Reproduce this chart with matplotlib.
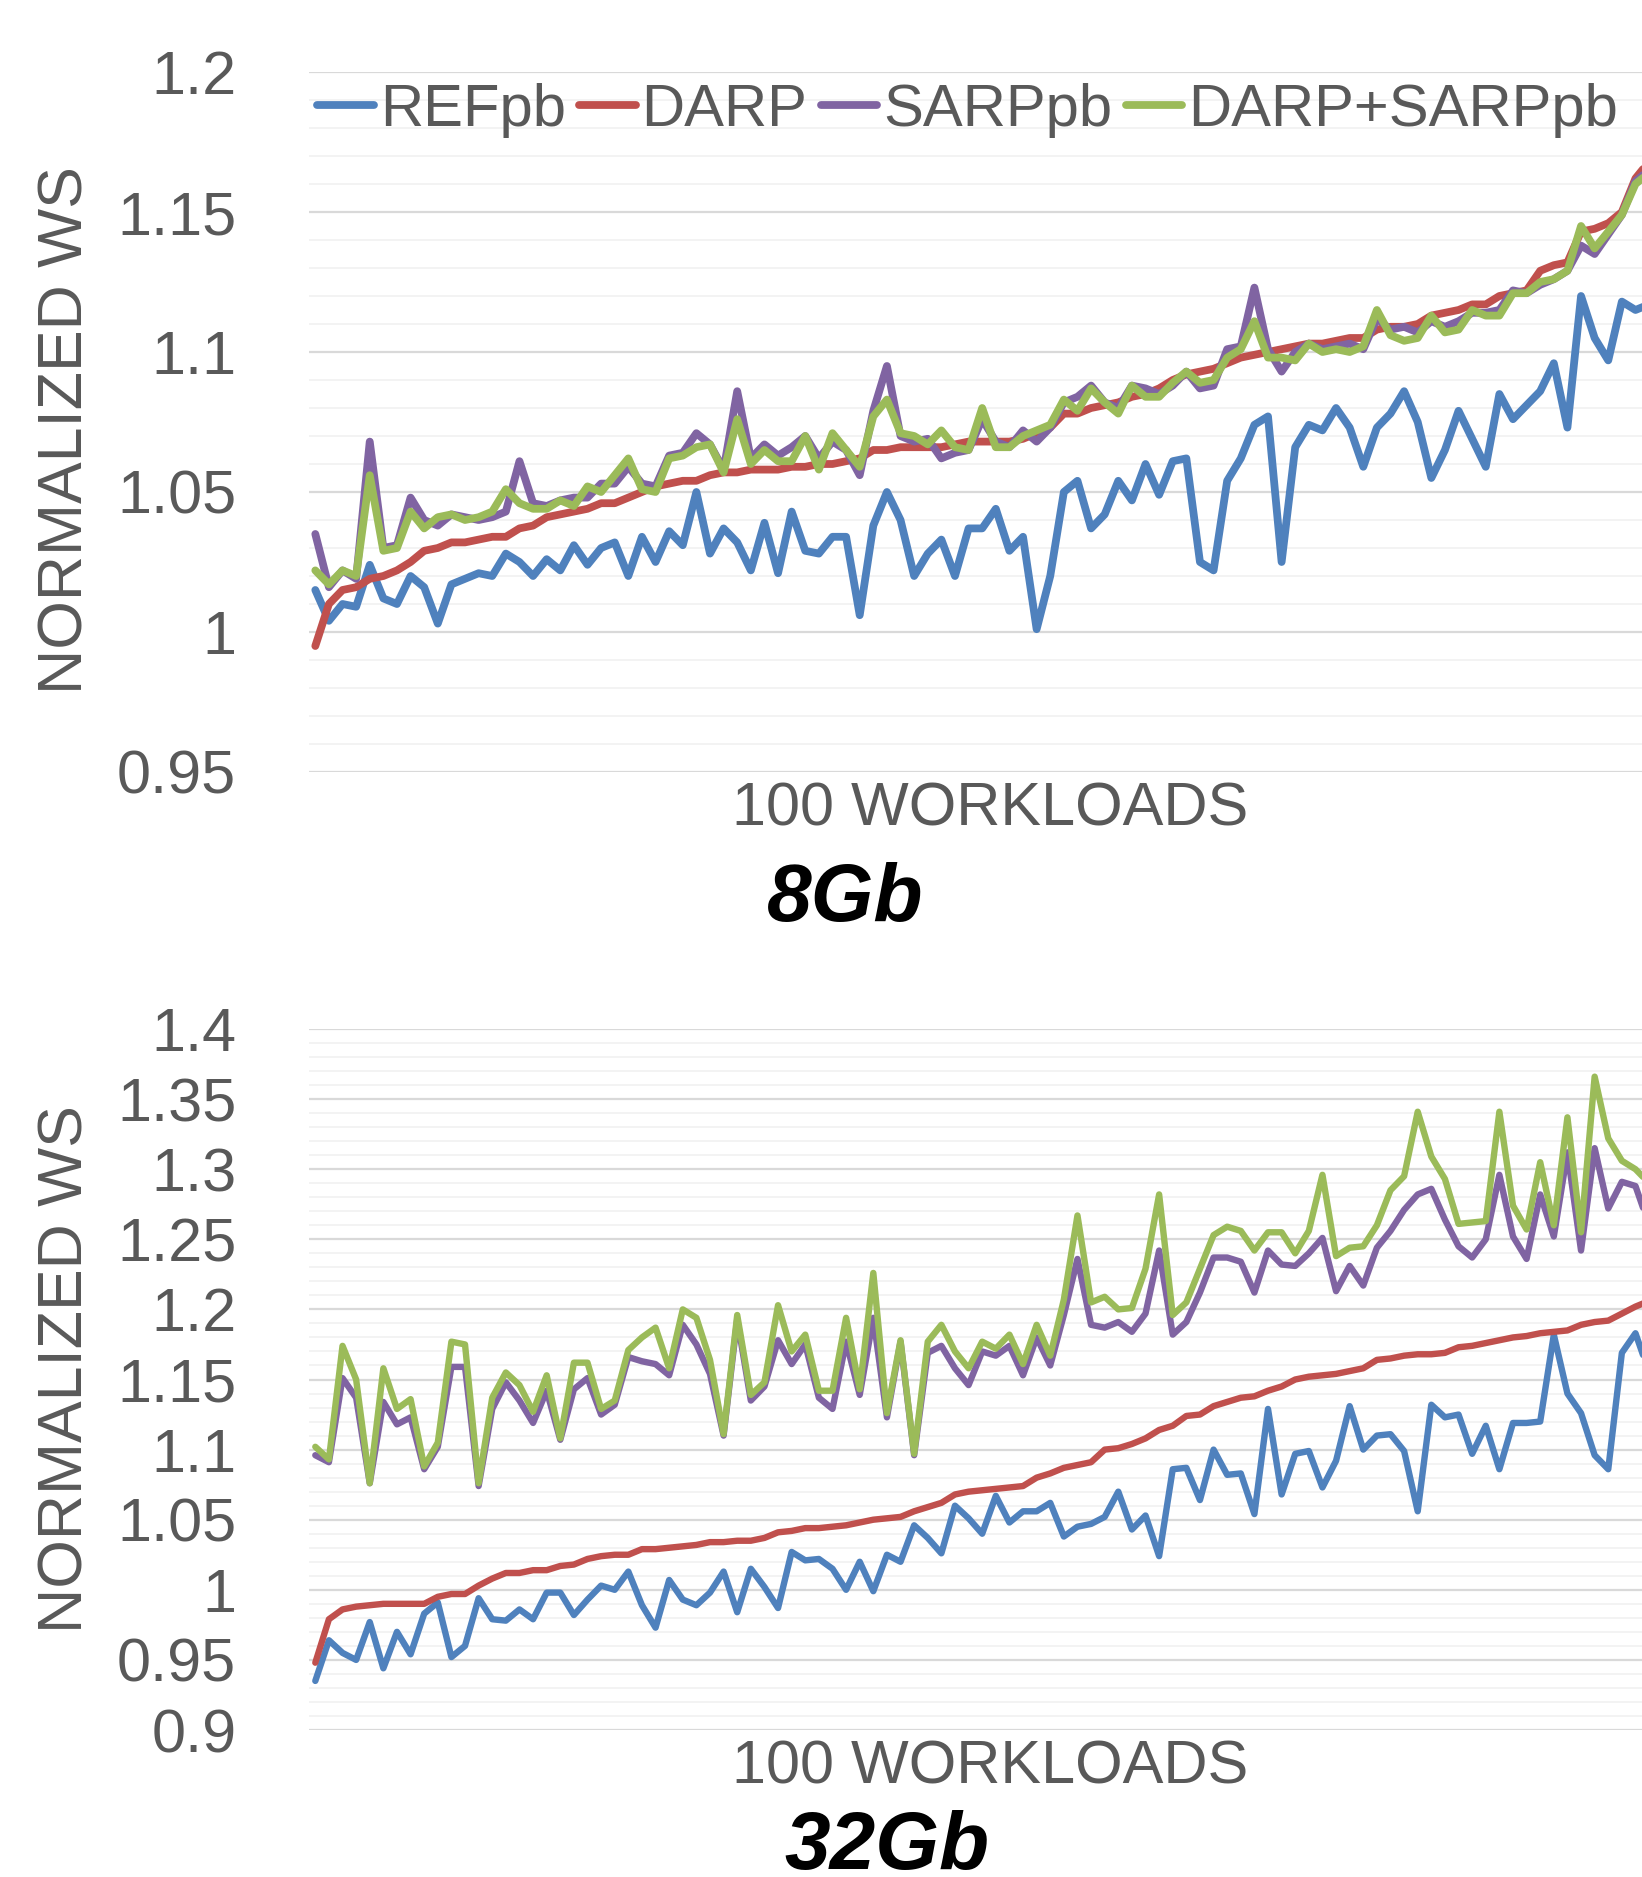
import matplotlib
matplotlib.use("Agg")
import matplotlib.pyplot as plt
from matplotlib.ticker import FixedLocator, MultipleLocator, FuncFormatter
import numpy as np

plt.rcParams['font.family'] = ['Liberation Sans', 'DejaVu Sans']

series_names = ["REFpb", "DARP", "SARPpb", "DARP+SARPpb"]
series_colors = ["#4F81BD", "#C0504D", "#8064A2", "#9BBB59"]
workloads = np.arange(1, 101)

# 8Gb panel
ref_8gb = [1.015, 1.004, 1.010, 1.009, 1.024, 1.012, 1.010, 1.020, 1.016, 1.003,
           1.017, 1.019, 1.021, 1.020, 1.028, 1.025, 1.020, 1.026, 1.022, 1.031,
           1.024, 1.030, 1.032, 1.020, 1.034, 1.025, 1.036, 1.031, 1.050, 1.028,
           1.037, 1.032, 1.022, 1.039, 1.021, 1.043, 1.029, 1.028, 1.034, 1.034,
           1.006, 1.038, 1.050, 1.040, 1.020, 1.028, 1.033, 1.020, 1.037, 1.037,
           1.044, 1.029, 1.034, 1.001, 1.020, 1.050, 1.054, 1.037, 1.042, 1.054,
           1.047, 1.060, 1.049, 1.061, 1.062, 1.025, 1.022, 1.054, 1.062, 1.074,
           1.077, 1.025, 1.066, 1.074, 1.072, 1.080, 1.073, 1.059, 1.073, 1.078,
           1.086, 1.075, 1.055, 1.065, 1.079, 1.069, 1.059, 1.085, 1.076, 1.081,
           1.086, 1.096, 1.073, 1.120, 1.105, 1.097, 1.118, 1.115, 1.117, 1.125]
darp_8gb = [0.995, 1.010, 1.015, 1.016, 1.019, 1.020, 1.022, 1.025, 1.029, 1.030,
            1.032, 1.032, 1.033, 1.034, 1.034, 1.037, 1.038, 1.041, 1.042, 1.043,
            1.044, 1.046, 1.046, 1.048, 1.050, 1.052, 1.053, 1.054, 1.054, 1.056,
            1.057, 1.057, 1.058, 1.058, 1.058, 1.059, 1.059, 1.060, 1.060, 1.061,
            1.062, 1.065, 1.065, 1.066, 1.066, 1.066, 1.066, 1.067, 1.068, 1.068,
            1.068, 1.068, 1.069, 1.071, 1.073, 1.078, 1.078, 1.080, 1.081, 1.082,
            1.084, 1.085, 1.087, 1.090, 1.092, 1.093, 1.094, 1.096, 1.098, 1.099,
            1.100, 1.101, 1.102, 1.103, 1.103, 1.104, 1.105, 1.105, 1.108, 1.109,
            1.109, 1.110, 1.113, 1.114, 1.115, 1.117, 1.117, 1.120, 1.121, 1.122,
            1.129, 1.131, 1.132, 1.143, 1.144, 1.146, 1.150, 1.162, 1.168, 1.178]
sarp_8gb = [1.035, 1.016, 1.022, 1.019, 1.068, 1.030, 1.031, 1.048, 1.040, 1.038,
            1.042, 1.041, 1.040, 1.041, 1.043, 1.061, 1.046, 1.045, 1.047, 1.048,
            1.048, 1.053, 1.053, 1.059, 1.053, 1.052, 1.063, 1.064, 1.071, 1.067,
            1.058, 1.086, 1.062, 1.067, 1.063, 1.066, 1.070, 1.062, 1.068, 1.065,
            1.056, 1.079, 1.095, 1.070, 1.068, 1.069, 1.062, 1.064, 1.065, 1.076,
            1.068, 1.066, 1.072, 1.068, 1.073, 1.082, 1.084, 1.088, 1.082, 1.080,
            1.088, 1.087, 1.085, 1.088, 1.093, 1.087, 1.088, 1.101, 1.102, 1.123,
            1.101, 1.093, 1.100, 1.103, 1.101, 1.102, 1.103, 1.101, 1.112, 1.108,
            1.109, 1.107, 1.111, 1.109, 1.111, 1.114, 1.114, 1.115, 1.122, 1.121,
            1.124, 1.126, 1.129, 1.138, 1.135, 1.142, 1.149, 1.161, 1.165, 1.172]
both_8gb = [1.022, 1.017, 1.022, 1.020, 1.056, 1.029, 1.030, 1.043, 1.037, 1.041,
            1.042, 1.040, 1.041, 1.043, 1.051, 1.046, 1.044, 1.044, 1.047, 1.045,
            1.052, 1.050, 1.056, 1.062, 1.051, 1.050, 1.062, 1.063, 1.066, 1.067,
            1.057, 1.076, 1.060, 1.065, 1.061, 1.061, 1.070, 1.058, 1.071, 1.065,
            1.059, 1.077, 1.083, 1.071, 1.070, 1.067, 1.072, 1.066, 1.065, 1.080,
            1.066, 1.066, 1.070, 1.072, 1.074, 1.083, 1.079, 1.087, 1.082, 1.078,
            1.088, 1.084, 1.084, 1.089, 1.093, 1.089, 1.090, 1.098, 1.101, 1.111,
            1.098, 1.098, 1.097, 1.103, 1.100, 1.101, 1.100, 1.102, 1.115, 1.106,
            1.104, 1.105, 1.113, 1.107, 1.108, 1.115, 1.113, 1.113, 1.121, 1.121,
            1.125, 1.126, 1.129, 1.145, 1.137, 1.143, 1.149, 1.160, 1.164, 1.170]

# 32Gb panel
ref_32gb = [0.935, 0.964, 0.955, 0.950, 0.977, 0.944, 0.970, 0.954, 0.983, 0.991,
            0.952, 0.960, 0.994, 0.979, 0.978, 0.986, 0.979, 0.998, 0.998, 0.982,
            0.993, 1.003, 1.000, 1.013, 0.989, 0.973, 1.007, 0.993, 0.989, 0.998,
            1.013, 0.984, 1.015, 1.002, 0.987, 1.027, 1.021, 1.022, 1.015, 1.000,
            1.020, 0.999, 1.025, 1.020, 1.046, 1.037, 1.026, 1.060, 1.051, 1.040,
            1.067, 1.048, 1.056, 1.056, 1.062, 1.038, 1.045, 1.047, 1.052, 1.070,
            1.043, 1.053, 1.024, 1.086, 1.087, 1.064, 1.100, 1.082, 1.083, 1.054,
            1.129, 1.068, 1.097, 1.099, 1.073, 1.092, 1.131, 1.100, 1.110, 1.111,
            1.099, 1.056, 1.132, 1.123, 1.125, 1.097, 1.117, 1.086, 1.119, 1.119,
            1.120, 1.182, 1.140, 1.126, 1.096, 1.086, 1.169, 1.183, 1.155, 1.170]
darp_32gb = [0.948, 0.979, 0.986, 0.988, 0.989, 0.990, 0.990, 0.990, 0.990, 0.995,
             0.997, 0.997, 1.003, 1.008, 1.012, 1.012, 1.014, 1.014, 1.017, 1.018,
             1.022, 1.024, 1.025, 1.025, 1.029, 1.029, 1.030, 1.031, 1.032, 1.034,
             1.034, 1.035, 1.035, 1.037, 1.041, 1.042, 1.044, 1.044, 1.045, 1.046,
             1.048, 1.050, 1.051, 1.052, 1.056, 1.059, 1.062, 1.068, 1.070, 1.071,
             1.072, 1.073, 1.074, 1.080, 1.083, 1.087, 1.089, 1.091, 1.100, 1.101,
             1.104, 1.108, 1.114, 1.117, 1.124, 1.125, 1.131, 1.134, 1.137, 1.138,
             1.142, 1.145, 1.150, 1.152, 1.153, 1.154, 1.156, 1.158, 1.164, 1.165,
             1.167, 1.168, 1.168, 1.169, 1.173, 1.174, 1.176, 1.178, 1.180, 1.181,
             1.183, 1.184, 1.185, 1.189, 1.191, 1.192, 1.197, 1.202, 1.206, 1.215]
sarp_32gb = [1.096, 1.091, 1.151, 1.137, 1.076, 1.134, 1.118, 1.123, 1.086, 1.102,
             1.159, 1.159, 1.074, 1.129, 1.148, 1.135, 1.119, 1.142, 1.107, 1.143,
             1.151, 1.125, 1.132, 1.166, 1.163, 1.161, 1.153, 1.189, 1.175, 1.154,
             1.110, 1.193, 1.135, 1.145, 1.178, 1.161, 1.175, 1.137, 1.129, 1.177,
             1.139, 1.194, 1.123, 1.177, 1.096, 1.169, 1.174, 1.158, 1.146, 1.170,
             1.167, 1.174, 1.153, 1.180, 1.160, 1.196, 1.236, 1.189, 1.187, 1.191,
             1.184, 1.197, 1.242, 1.182, 1.191, 1.212, 1.237, 1.237, 1.234, 1.212,
             1.242, 1.232, 1.231, 1.240, 1.251, 1.213, 1.231, 1.217, 1.244, 1.256,
             1.271, 1.282, 1.286, 1.264, 1.245, 1.237, 1.250, 1.296, 1.252, 1.236,
             1.282, 1.252, 1.312, 1.242, 1.315, 1.272, 1.291, 1.288, 1.260, 1.270]
both_32gb = [1.102, 1.093, 1.174, 1.150, 1.076, 1.158, 1.129, 1.136, 1.088, 1.105,
             1.177, 1.175, 1.076, 1.137, 1.155, 1.146, 1.127, 1.153, 1.108, 1.162,
             1.162, 1.129, 1.135, 1.171, 1.180, 1.187, 1.158, 1.200, 1.194, 1.164,
             1.111, 1.196, 1.139, 1.148, 1.203, 1.170, 1.182, 1.142, 1.142, 1.194,
             1.143, 1.226, 1.126, 1.178, 1.097, 1.177, 1.189, 1.170, 1.158, 1.177,
             1.172, 1.182, 1.161, 1.189, 1.167, 1.207, 1.267, 1.205, 1.209, 1.200,
             1.201, 1.229, 1.282, 1.196, 1.205, 1.229, 1.253, 1.259, 1.256, 1.242,
             1.255, 1.255, 1.240, 1.256, 1.296, 1.238, 1.244, 1.245, 1.260, 1.285,
             1.295, 1.341, 1.309, 1.293, 1.261, 1.262, 1.263, 1.341, 1.274, 1.257,
             1.305, 1.260, 1.337, 1.255, 1.366, 1.322, 1.306, 1.300, 1.290, 1.300]

ticks_8gb = [0.95, 1.0, 1.05, 1.1, 1.15, 1.2]
ticks_32gb = [0.9, 0.95, 1.0, 1.05, 1.1, 1.15, 1.2, 1.25, 1.3, 1.35, 1.4]

W, H = 1642, 1877
fig = plt.figure(figsize=(W / 100, H / 100), dpi=100)
grey = "#595959"

# plot area runs past the right edge of the picture, as in the original
left = 308.5 / W
width = 1361 / W
ax1 = fig.add_axes([left, 1 - 772 / H, width, 700 / H])
ax2 = fig.add_axes([left, 1 - 1730 / H, width, 701 / H])


def style(ax, ticks):
    ax.set_xlim(0.5, 100.5)
    ax.set_ylim(ticks[0], ticks[-1])
    ax.yaxis.set_major_locator(FixedLocator(ticks))
    ax.yaxis.set_minor_locator(MultipleLocator(0.01))
    ax.yaxis.set_major_formatter(FuncFormatter(lambda v, p: f"{v:g}"))
    ax.set_xticks([])
    ax.grid(axis="y", which="minor", color="#F2F2F2", linewidth=1.3)
    ax.grid(axis="y", which="major", color="#D9D9D9", linewidth=1.6)
    ax.set_axisbelow(True)
    for s in ax.spines.values():
        s.set_visible(False)
    ax.tick_params(axis="y", which="both", length=0, pad=52,
                   labelsize=44, labelcolor=grey)


lines = []
for ax, data, ticks, lw in [
    (ax1, [ref_8gb, darp_8gb, sarp_8gb, both_8gb], ticks_8gb, 5.6),
    (ax2, [ref_32gb, darp_32gb, sarp_32gb, both_32gb], ticks_32gb, 4.6),
]:
    style(ax, ticks)
    hs = []
    for vals, name, c in zip(data, series_names, series_colors):
        h, = ax.plot(workloads, vals, color=c, lw=lw, label=name,
                     solid_joinstyle="round", solid_capstyle="round")
        hs.append(h)
    lines.append(hs)

fig.legend(handles=lines[0], labels=series_names, loc="center left",
           bbox_to_anchor=(317 / W, 1 - 110 / H), ncol=4, frameon=False,
           fontsize=43, labelcolor=grey, handlelength=0.95, handletextpad=0.1,
           columnspacing=0.22, borderpad=0, borderaxespad=0)

# axis titles
fig.text(66 / W, 1 - 430 / H, "NORMALIZED WS", rotation=90, ha="center",
         va="center", fontsize=45, color=grey)
fig.text(66 / W, 1 - 1369 / H, "NORMALIZED WS", rotation=90, ha="center",
         va="center", fontsize=45, color=grey)
fig.text(990 / W, 1 - 810 / H, "100 WORKLOADS", ha="center", va="center",
         fontsize=44, color=grey)
fig.text(990 / W, 1 - 1768 / H, "100 WORKLOADS", ha="center", va="center",
         fontsize=44, color=grey)

fig.text(845 / W, 1 - 900 / H, "8Gb", ha="center", va="center",
         fontsize=58, fontweight="bold", fontstyle="italic", color="black")
# sits partly below the bottom edge, as in the original
fig.text(887 / W, 1 - 1810 / H, "32Gb", ha="center", va="top",
         fontsize=59, fontweight="bold", fontstyle="italic", color="black")

fig.savefig("out.png", dpi=100)
